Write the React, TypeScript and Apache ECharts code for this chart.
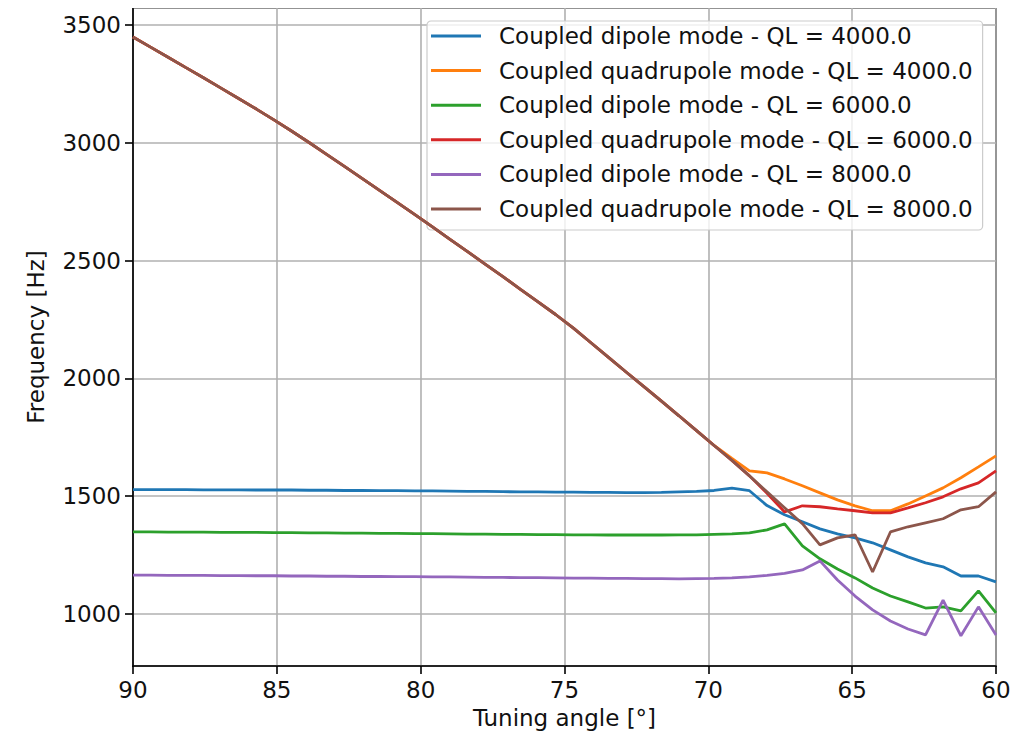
import React, { useEffect, useRef } from "react";
import * as echarts from "echarts";

const angles = [90.0, 89.39, 88.78, 88.16, 87.55, 86.94, 86.33, 85.71, 85.1, 84.49, 83.88, 83.27, 82.65, 82.04, 81.43, 80.82, 80.2, 79.59, 78.98, 78.37, 77.76, 77.14, 76.53, 75.92, 75.31, 74.69, 74.08, 73.47, 72.86, 72.24, 71.63, 71.02, 70.41, 69.8, 69.18, 68.57, 67.96, 67.35, 66.73, 66.12, 65.51, 64.9, 64.29, 63.67, 63.06, 62.45, 61.84, 61.22, 60.61, 60.0];

// shared part of the quadrupole curves (90° .. 69.8°)
const quadShared = [3449, 3406, 3363, 3319, 3276, 3232, 3188, 3143, 3097, 3050, 3001, 2951, 2900, 2849, 2798, 2747, 2695, 2643, 2590, 2538, 2485, 2432, 2378, 2325, 2271, 2213, 2151, 2089, 2027, 1965, 1903, 1841, 1778, 1715];
const quad4000Tail = [1660, 1607, 1599, 1573, 1544, 1514, 1484, 1459, 1438, 1438, 1467, 1501, 1535, 1578, 1624, 1671];
const quad6000Tail = [1652, 1586, 1512, 1433, 1459, 1455, 1446, 1438, 1429, 1429, 1450, 1472, 1497, 1531, 1556, 1607];
const quad8000Tail = [1652, 1586, 1518, 1451, 1383, 1293, 1323, 1336, 1178, 1348, 1370, 1387, 1404, 1442, 1455, 1518];

const dipole4000 = [1528, 1528, 1528, 1528, 1527, 1527, 1527, 1526, 1526, 1526, 1525, 1525, 1524, 1524, 1523, 1523, 1522, 1522, 1521, 1520, 1520, 1519, 1518, 1518, 1517, 1517, 1516, 1516, 1515, 1515, 1516, 1518, 1520, 1524, 1534, 1523, 1460, 1421, 1391, 1361, 1340, 1323, 1302, 1272, 1242, 1217, 1200, 1161, 1161, 1136];
const dipole6000 = [1348, 1348, 1347, 1347, 1347, 1346, 1346, 1346, 1345, 1345, 1344, 1344, 1343, 1343, 1342, 1342, 1341, 1341, 1340, 1339, 1339, 1338, 1338, 1337, 1337, 1336, 1336, 1335, 1335, 1335, 1335, 1336, 1336, 1338, 1340, 1344, 1357, 1382, 1289, 1234, 1191, 1153, 1110, 1076, 1051, 1025, 1030, 1013, 1098, 1004];
const dipole8000 = [1165, 1165, 1164, 1164, 1164, 1163, 1163, 1162, 1162, 1161, 1161, 1160, 1160, 1159, 1159, 1158, 1158, 1157, 1157, 1156, 1155, 1155, 1154, 1154, 1153, 1152, 1152, 1151, 1151, 1150, 1150, 1149, 1150, 1151, 1153, 1157, 1164, 1172, 1187, 1225, 1144, 1076, 1017, 970, 936, 911, 1059, 907, 1030, 911];

const seriesNames = [
  "Coupled dipole mode - QL = 4000.0",
  "Coupled quadrupole mode - QL = 4000.0",
  "Coupled dipole mode - QL = 6000.0",
  "Coupled quadrupole mode - QL = 6000.0",
  "Coupled dipole mode - QL = 8000.0",
  "Coupled quadrupole mode - QL = 8000.0",
];
const colors = ["#1f77b4", "#ff7f0e", "#2ca02c", "#d62728", "#9467bd", "#8c564b"];

const FONT = "DejaVu Sans";
const FS = 23;

export default function App() {
  const ref = useRef<HTMLDivElement>(null);
  useEffect(() => {
    if (!ref.current) return;
    const chart = echarts.init(ref.current, null, { renderer: "svg" });
    const valueSets = [
      dipole4000,
      quadShared.concat(quad4000Tail),
      dipole6000,
      quadShared.concat(quad6000Tail),
      dipole8000,
      quadShared.concat(quad8000Tail),
    ];
    const series = valueSets.map((vals, si) => ({
      name: seriesNames[si],
      type: "line",
      data: angles.map((a, i) => [a, vals[i]]),
      showSymbol: false,
      symbol: "none",
      lineStyle: { width: 2.8, color: colors[si] },
      itemStyle: { color: colors[si] },
      z: 3 + si,
    }));
    chart.setOption({
      animation: false,
      textStyle: { fontFamily: FONT },
      grid: {
        left: 133,
        right: 34,
        top: 8,
        bottom: 74,
        show: true,
        borderColor: "#000",
        borderWidth: 1.6,
        backgroundColor: "transparent",
      },
      legend: {
        orient: "vertical",
        left: 427,
        top: 21,
        padding: [3, 10, 9, 4],
        itemWidth: 50,
        itemHeight: 3,
        itemGap: 10.6,
        icon: "rect",
        backgroundColor: "rgba(255,255,255,0.8)",
        borderColor: "#cccccc",
        borderWidth: 1.2,
        borderRadius: 4,
        textStyle: {
          fontFamily: FONT,
          fontSize: FS,
          color: "#111",
          lineHeight: 24,
          padding: [0, 0, 0, 13],
        },
        data: seriesNames,
      },
      xAxis: {
        type: "value",
        inverse: true,
        min: 60,
        max: 90,
        interval: 5,
        name: "Tuning angle [°]",
        nameLocation: "middle",
        nameGap: 40,
        nameTextStyle: { fontFamily: FONT, fontSize: FS, color: "#111" },
        axisLine: { show: true, onZero: false, lineStyle: { color: "#000", width: 1.6 } },
        axisTick: { show: true, length: 8, lineStyle: { color: "#000", width: 1.6 } },
        axisLabel: { fontFamily: FONT, fontSize: FS, color: "#111", margin: 12 },
        splitLine: { show: true, lineStyle: { color: "#b0b0b0", width: 1.6 } },
      },
      yAxis: {
        type: "value",
        min: 779,
        max: 3572,
        splitNumber: 5,
        name: "Frequency [Hz]",
        nameLocation: "middle",
        nameGap: 86,
        nameTextStyle: { fontFamily: FONT, fontSize: FS, color: "#111" },
        axisLine: { show: true, onZero: false, lineStyle: { color: "#000", width: 1.6 } },
        axisTick: { show: true, length: 8, lineStyle: { color: "#000", width: 1.6 } },
        axisLabel: {
          fontFamily: FONT,
          fontSize: FS,
          color: "#111",
          margin: 12,
          showMinLabel: false,
          showMaxLabel: false,
          formatter: (v: number) => String(v),
        },
        splitLine: { show: true, lineStyle: { color: "#b0b0b0", width: 1.6 } },
      },
      series,
    });
    return () => chart.dispose();
  }, []);
  return <div ref={ref} style={{ width: 1030, height: 740, margin: -8 }} />;
}
